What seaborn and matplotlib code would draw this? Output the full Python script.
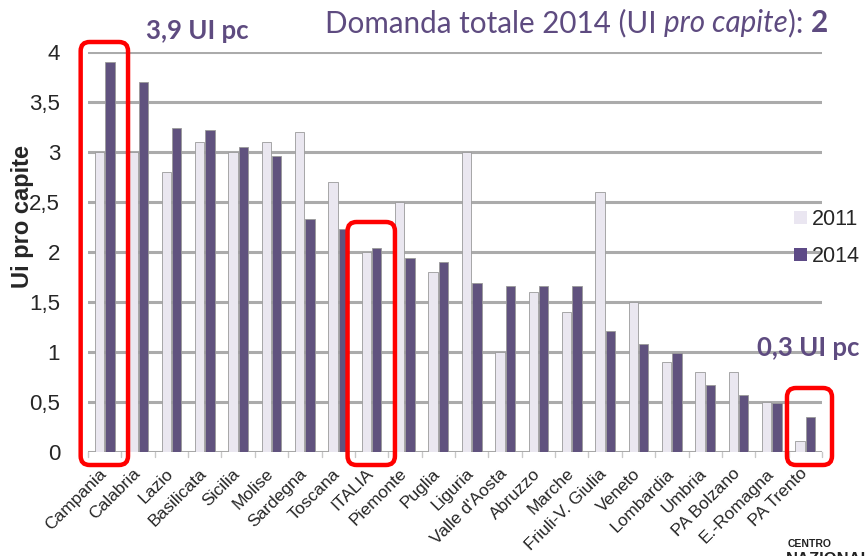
import matplotlib
matplotlib.use("Agg")
import matplotlib.pyplot as plt
import seaborn as sns
import pandas as pd
from matplotlib.patches import FancyBboxPatch, Rectangle
from matplotlib.transforms import IdentityTransform, ScaledTranslation

categories = ["Campania", "Calabria", "Lazio", "Basilicata", "Sicilia", "Molise",
              "Sardegna", "Toscana", "ITALIA", "Piemonte", "Puglia", "Liguria",
              "Valle d'Aosta", "Abruzzo", "Marche", "Friuli-V. Giulia", "Veneto",
              "Lombardia", "Umbria", "PA Bolzano", "E.-Romagna", "PA Trento"]
v2011 = [3.0, 3.0, 2.8, 3.1, 3.0, 3.1, 3.2, 2.7, 2.0, 2.5, 1.8, 3.0,
         1.0, 1.6, 1.4, 2.6, 1.5, 0.9, 0.8, 0.8, 0.5, 0.11]
v2014 = [3.9, 3.7, 3.24, 3.22, 3.05, 2.96, 2.33, 2.23, 2.04, 1.94, 1.9, 1.69,
         1.66, 1.66, 1.66, 1.21, 1.08, 0.99, 0.67, 0.57, 0.49, 0.35]
years = ["2011", "2014"]
yticks = [0, 0.5, 1, 1.5, 2, 2.5, 3, 3.5, 4]
ytick_labels = ["0", "0,5", "1", "1,5", "2", "2,5", "3", "3,5", "4"]

df = pd.DataFrame({
    "Regione": categories * 2,
    "UI": v2011 + v2014,
    "Anno": [years[0]] * len(categories) + [years[1]] * len(categories),
})

sns.set_theme(style="white")
plt.rcParams["font.family"] = ["Liberation Sans", "DejaVu Sans"]

c2011 = "#EAE6F1"
c2014 = "#5D4A86"
purple_txt = "#5E4B80"

fig = plt.figure(figsize=(8.68, 5.56), dpi=100)
W, H = 868, 556
ax = fig.add_axes([88 / W, (H - 452) / H, (822 - 88) / W, 400 / H])

sns.barplot(data=df, x="Regione", y="UI", hue="Anno", order=categories,
            hue_order=years, palette=[c2011, c2014], width=0.62, gap=0.1,
            edgecolor="#9A9A9A", linewidth=0.6, ax=ax, legend=False, zorder=3)

ax.set_ylim(0, 4)
ax.set_xlim(-0.5, len(categories) - 0.5)
ax.set_yticks(yticks)
ax.set_yticklabels(ytick_labels, fontsize=16)
ax.tick_params(axis="y", length=0, pad=20)
ax.tick_params(axis="x", length=0, pad=10)
ax.set_xticks(range(len(categories)))
ax.set_xticklabels(categories, rotation=45, ha="right", rotation_mode="anchor",
                   fontsize=12.5)
shift = ScaledTranslation(-6 / 100, 0, fig.dpi_scale_trans)
for lab in ax.get_xticklabels():
    lab.set_transform(lab.get_transform() + shift)
ax.set_xlabel("")
ax.set_ylabel("Ui pro capite", fontsize=17, fontweight="bold")
ax.yaxis.set_label_coords(-0.074, 0.59)
for s in ax.spines.values():
    s.set_visible(False)
ax.set_axisbelow(True)
ax.grid(axis="y", color="#ABABAB", linewidth=2.2, zorder=0)

# floor tick marks between categories
for i in range(len(categories) + 1):
    ax.plot([i - 0.5, i - 0.5], [0, -0.05], color="#C8C8C8", lw=1,
            clip_on=False, zorder=1)
ax.axhline(0, color="#A8A8A8", lw=2, zorder=1)

# legend
handles = [Rectangle((0, 0), 1, 1, facecolor=c2011, edgecolor="none"),
           Rectangle((0, 0), 1, 1, facecolor=c2014, edgecolor="none")]
fig.legend(handles, years, loc="upper left", bbox_to_anchor=(794 / W, 1 - 209 / H),
           frameon=False, fontsize=15.5, handlelength=0.6, handleheight=0.6,
           handletextpad=0.25, labelspacing=0.75, borderpad=0, borderaxespad=0)

# title (mixed styles)
ty = 1 - 23 / H
fs_t = 21.3
t1 = fig.text(325 / W, ty, "Domanda totale 2014 (UI ", fontsize=fs_t,
              color=purple_txt, ha="left", va="center", family="Lato")
fig.canvas.draw()
r = fig.canvas.get_renderer()
bb = t1.get_window_extent(r)
t2 = fig.text(bb.x1 / W, ty, "pro capite", fontsize=fs_t, style="italic",
              color=purple_txt, ha="left", va="center", family="Lato")
bb2 = t2.get_window_extent(r)
t3 = fig.text(bb2.x1 / W, ty, "): ", fontsize=fs_t,
              color=purple_txt, ha="left", va="center", family="Lato")
bb3 = t3.get_window_extent(r)
fig.text(bb3.x1 / W, ty, "2", fontsize=fs_t, fontweight="bold",
         color=purple_txt, ha="left", va="center", family="Lato")

fig.text(146 / W, 1 - 31 / H, "3,9 UI pc", fontsize=18.5, fontweight="bold",
         color=purple_txt, ha="left", va="center", family="Lato")
fig.text(757 / W, 1 - 348 / H, "0,3 UI pc", fontsize=18.5, fontweight="bold",
         color=purple_txt, ha="left", va="center", family="Lato")

# red highlight boxes (category index based)
def red_box(idx, top, left=-0.72, right=0.7, bottom=-0.13):
    x0, y0 = ax.transData.transform((idx + left, bottom))
    x1, y1 = ax.transData.transform((idx + right, top))
    p = FancyBboxPatch((x0, y0), x1 - x0, y1 - y0,
                       boxstyle="round,pad=0,rounding_size=9",
                       transform=IdentityTransform(), facecolor="none",
                       edgecolor="#FF0000", lw=3.2, zorder=10)
    fig.add_artist(p)

red_box(categories.index("Campania"), 4.1)
red_box(categories.index("ITALIA"), 2.3)
red_box(categories.index("PA Trento"), 0.64, left=-0.55, right=0.8)

# logo fragment bottom right
fig.text(788 / W, 1 - 544 / H, "CENTRO", fontsize=7.5, fontweight="bold",
         color="#222222", ha="left", va="center")
fig.text(786 / W, 1 - 559 / H, "NAZIONALE", fontsize=12, fontweight="bold",
         color="#222222", ha="left", va="center")

fig.savefig("out.png", dpi=100)
